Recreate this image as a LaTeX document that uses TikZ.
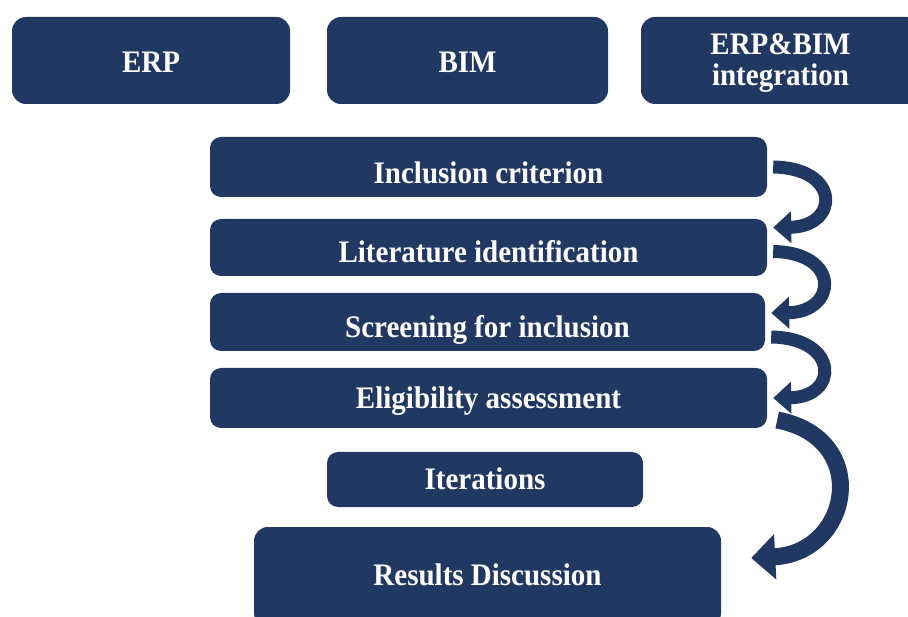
\documentclass[tikz,border=0pt]{standalone}
\usepackage{fontspec}
\setmainfont{Liberation Serif}
\usetikzlibrary{arrows.meta}
\definecolor{navy}{RGB}{33,56,98}
\newcommand{\boxtext}[2]{\raisebox{#1}[0pt][0pt]{\makebox[0pt]{\scalebox{1}[1.08]{#2}}}}
\tikzset{
  box/.style={fill=navy, rounded corners=11pt, inner sep=0pt, text=white,
    font=\bfseries\fontsize{29}{31}\selectfont},
  curlarrow/.style={draw=navy, line width=13pt, -{Triangle[width=31pt,length=18pt]}},
  bigcurlarrow/.style={draw=navy, line width=17pt, -{Triangle[width=44pt,length=24pt]}}
}
\begin{document}
\begin{tikzpicture}[x=1pt,y=-1pt]
\useasboundingbox (0,0) rectangle (908,617);
\node[box, minimum width=278pt, minimum height=87pt, rounded corners=14pt] (erp) at (151,60.5) {\boxtext{-12pt}{ERP}};
\node[box, minimum width=281pt, minimum height=87pt, rounded corners=14pt] (bim) at (467.5,60.5) {\boxtext{-12pt}{BIM}};
\node[box, minimum width=279pt, minimum height=87pt, rounded corners=14pt] (integ) at (780.5,60.5) {\boxtext{6pt}{ERP\&BIM}\boxtext{-25pt}{integration}};
\node[box, minimum width=557pt, minimum height=60pt] (inc) at (488.5,167) {\boxtext{-17pt}{Inclusion criterion}};
\node[box, minimum width=557pt, minimum height=57pt] (lit) at (488.5,247.5) {\boxtext{-15pt}{Literature identification}};
\node[box, minimum width=555pt, minimum height=58pt] (scr) at (487.5,322) {\boxtext{-15.5pt}{Screening for inclusion}};
\node[box, minimum width=557pt, minimum height=60pt] (elig) at (488.5,398) {\boxtext{-11pt}{Eligibility assessment}};
\node[box, minimum width=316pt, minimum height=55pt] (iter) at (485,479.5) {\boxtext{-10pt}{Iterations}};
\node[box, minimum width=467pt, minimum height=100pt, rounded corners=14pt] (res) at (487.5,577) {\boxtext{-8pt}{Results Discussion}};

\draw[curlarrow] ([xshift=6pt]inc.east) .. controls +(68,1) and +(66,-1) .. ([xshift=6pt,yshift=20pt]lit.east);
\draw[curlarrow] ([xshift=6pt,yshift=-4pt]lit.east) .. controls +(68,1) and +(66,-1) .. ([xshift=6pt,yshift=9pt]scr.east);
\draw[curlarrow] ([xshift=6pt,yshift=-15pt]scr.east) .. controls +(68,1) and +(66,-1) .. ([xshift=6pt,yshift=0pt]elig.east);
\draw[bigcurlarrow] ([xshift=10pt,yshift=-22pt]elig.east) .. controls +(95,18) and +(100,-5) .. ([xshift=30pt,yshift=19pt]res.east);
\end{tikzpicture}
\end{document}
